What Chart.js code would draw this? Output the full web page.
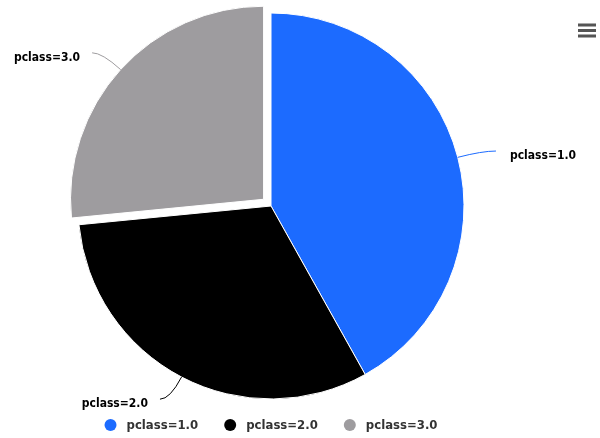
<!DOCTYPE html>
<html>
<head>
<meta charset="utf-8">
<script src="https://cdn.jsdelivr.net/npm/chart.js@4/dist/chart.umd.min.js"></script>
<style>
  html, body { margin: 0; padding: 0; background: #fff; }
  #wrap { width: 600px; height: 438px; position: relative; }
</style>
</head>
<body>
<div id="wrap"><canvas id="pie"></canvas></div>
<script>
// mean age per passenger class
const categories = ['pclass=1.0', 'pclass=2.0', 'pclass=3.0'];
const meanAge = [39.16, 29.51, 24.82];
const sliceColors = ['#1c6bff', '#000000', '#9e9c9f'];
const sliceOffsets = [0, 0, 40]; // chart.js moves an arc by offset/4

const FONT = '"DejaVu Sans Condensed", "DejaVu Sans", sans-serif';

// labels outside the pie with curved connectors
const sliceLabels = {
    id: 'sliceLabels',
    afterDatasetsDraw(chart) {
        const ctx = chart.ctx;
        const meta = chart.getDatasetMeta(0);
        ctx.save();
        ctx.font = 'bold 12px ' + FONT;
        ctx.lineWidth = 1;
        meta.data.forEach((arc, i) => {
            const mid = (arc.startAngle + arc.endAngle) / 2;
            const shift = (arc.options.offset || 0) / 4;
            const dx = Math.cos(mid), dy = Math.sin(mid);
            const cx = arc.x + dx * shift, cy = arc.y + dy * shift;
            const r = arc.outerRadius;
            const sx = cx + dx * r, sy = cy + dy * r;
            const ex = cx + dx * (r + 25), ey = cy + dy * (r + 25);
            const right = dx >= 0;
            const endX = ex + (right ? 14 : -10);

            ctx.strokeStyle = sliceColors[i];
            ctx.beginPath();
            ctx.moveTo(sx, sy);
            ctx.quadraticCurveTo(ex, ey, endX, ey);
            ctx.stroke();

            ctx.fillStyle = '#000';
            ctx.textBaseline = 'alphabetic';
            ctx.textAlign = right ? 'left' : 'right';
            ctx.fillText(chart.data.labels[i], endX + (right ? 14 : -12), ey + 8);
        });
        ctx.restore();
    }
};

// bottom legend and menu button
const bottomLegend = {
    id: 'bottomLegend',
    afterDraw(chart) {
        const ctx = chart.ctx;
        const colors = chart.data.datasets[0].backgroundColor;
        ctx.save();
        ctx.font = 'bold 13px ' + FONT;
        const widths = chart.data.labels.map(l => ctx.measureText(l).width);
        const gap = 26;
        const total = widths.reduce((s, w) => s + 22 + w, 0) + gap * (widths.length - 1);
        let x = (chart.chartArea.left + chart.chartArea.right) / 2 - total / 2;
        const y = 425;
        ctx.textBaseline = 'middle';
        ctx.textAlign = 'left';
        chart.data.labels.forEach((label, i) => {
            ctx.fillStyle = colors[i];
            ctx.beginPath();
            ctx.arc(x + 6, y, 6, 0, Math.PI * 2);
            ctx.fill();
            ctx.fillStyle = '#333';
            ctx.fillText(label, x + 22, y + 1);
            x += 22 + widths[i] + gap;
        });

        ctx.fillStyle = '#555';
        [23.5, 29, 34.5].forEach(ly => ctx.fillRect(578, ly, 18, 3));
        ctx.restore();
    }
};

new Chart(document.getElementById('pie'), {
    type: 'pie',
    data: {
        labels: categories,
        datasets: [{
            data: meanAge,
            backgroundColor: sliceColors,
            borderColor: '#ffffff',
            borderWidth: 1,
            offset: sliceOffsets,
            hoverOffset: 0
        }]
    },
    options: {
        responsive: true,
        maintainAspectRatio: false,
        animation: false,
        radius: 193,
        layout: { padding: { left: 0, right: 58, top: 0, bottom: 26 } },
        plugins: {
            legend: { display: false },
            tooltip: { enabled: false }
        }
    },
    plugins: [sliceLabels, bottomLegend]
});
</script>
</body>
</html>
